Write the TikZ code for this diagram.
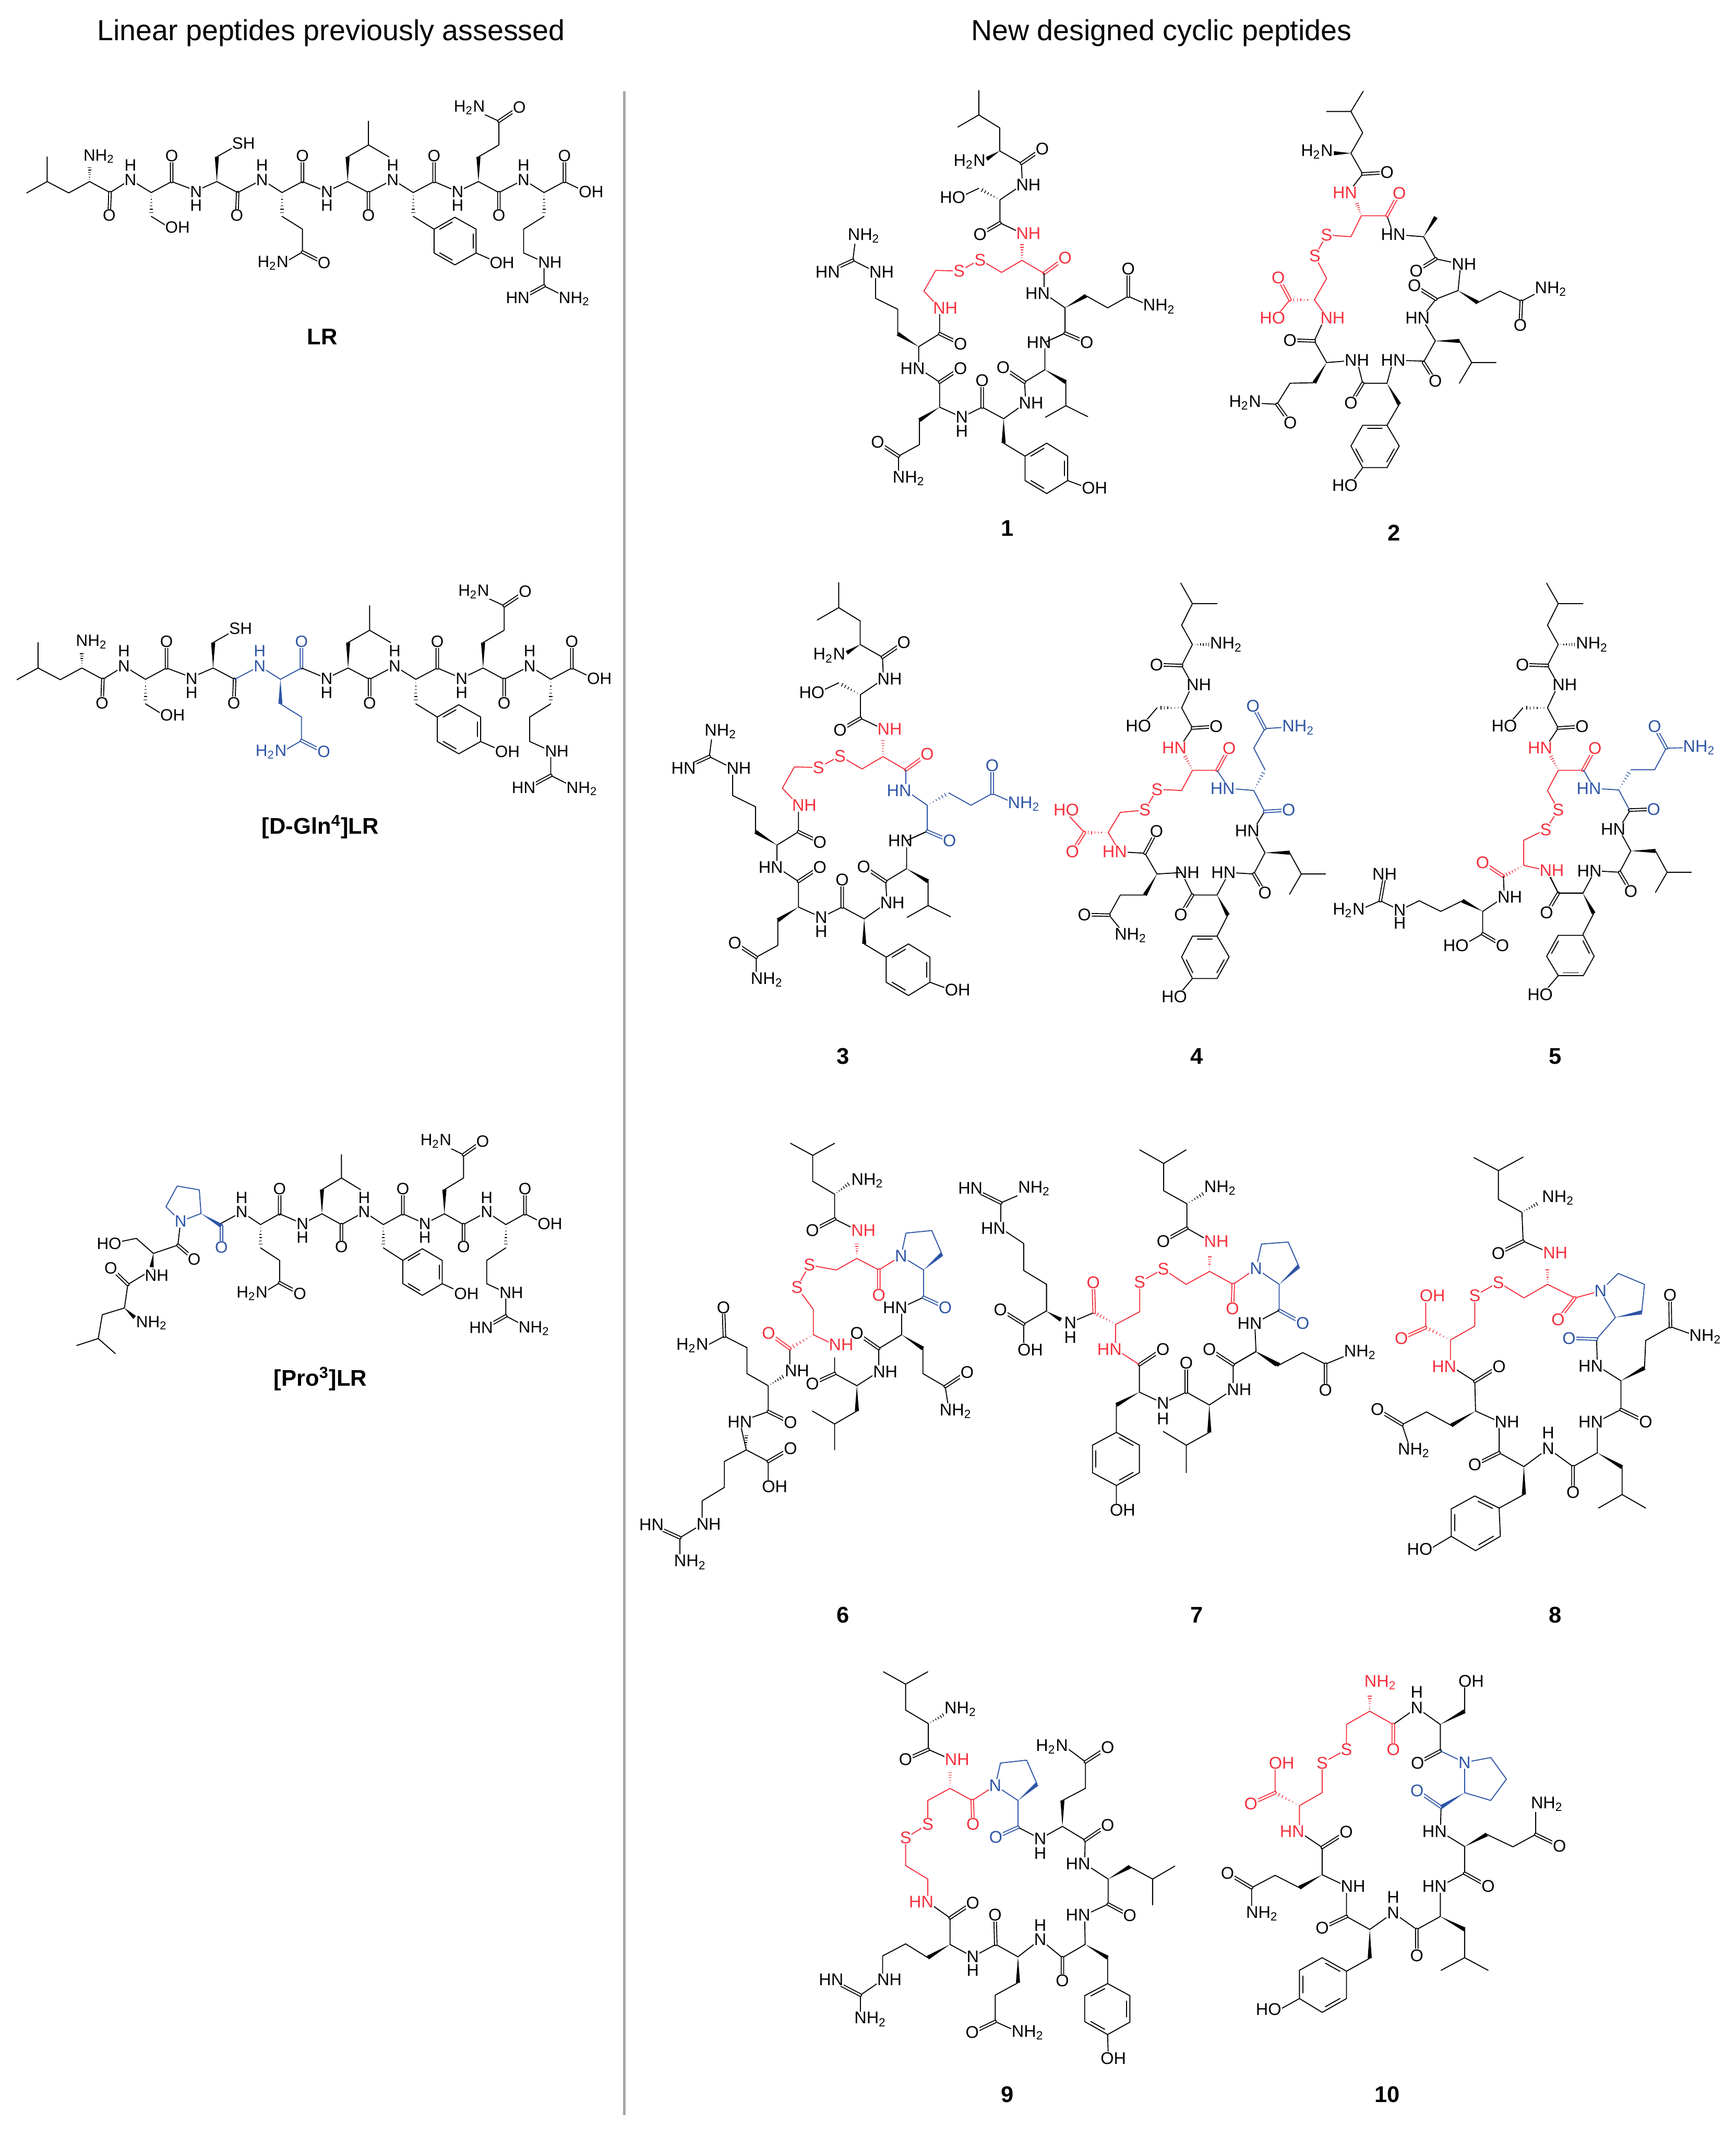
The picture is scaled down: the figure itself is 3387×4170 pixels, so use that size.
\documentclass[tikz,border=0pt]{standalone}
\usepackage{fontspec}
\setmainfont{Liberation Sans}
\usetikzlibrary{calc}
\definecolor{pepred}{HTML}{F5303C}
\definecolor{pepblue}{HTML}{2E55A5}
\definecolor{ruleGrey}{HTML}{A8A8A8}
\newcommand{\two}{\textsubscript{2}}
\tikzset{
  bond/.style={line width=.019cm,line cap=round,line join=round},
  dbl/.style={bond,double,double distance=.03cm},
  atom/.style={font=\fontsize{9.4}{10}\selectfont,fill=white,inner sep=.3pt},
  linatom/.style={atom,font=\fontsize{9.1}{10}\selectfont},
  redatom/.style={text=pepred},
  blueatom/.style={text=pepblue},
  heading/.style={font=\fontsize{16.1}{18}\selectfont},
  caption/.style={font=\fontsize{12.6}{14}\selectfont\bfseries}
}
\newcommand{\wedges}[2][black]{\foreach \xa/\ya/\xb/\yb in {#2}{\fill[#1] ($(\xb,\yb)!.04cm!90:(\xa,\ya)$) -- ($(\xb,\yb)!.04cm!-90:(\xa,\ya)$) -- (\xa,\ya) -- cycle;}}
\newcommand{\hashes}[2][black]{\foreach \xa/\ya/\xb/\yb in {#2}{\foreach \hs in {.14,.28,.42,.56,.70,.84}{\pgfmathsetmacro\hw{\hs*.045}\draw[#1,line width=.014cm] ($(\xa,\ya)!\hs!(\xb,\yb)!\hw cm!90:(\xb,\yb)$) -- ($(\xa,\ya)!\hs!(\xb,\yb)!\hw cm!-90:(\xb,\yb)$);}}}
\newcommand{\phinner}[3]{\draw[bond] ($(#1)!.15!(#2)!.14!(#3)$) -- ($(#2)!.15!(#1)!.14!(#3)$);}
\newcommand{\phenyl}[6]{\draw[bond] (#1)--(#2)--(#3)--(#4)--(#5)--(#6)--cycle;
  \coordinate (rc) at ($(#1)!.5!(#4)$);
  \phinner{#1}{#2}{rc}\phinner{#3}{#4}{rc}\phinner{#5}{#6}{rc}}
\newcommand{\lrhead}{
  \draw[bond] (68,662)--(120,600)--(120,465) (120,600)--(175,662)--(228,600)--(280,660)--(332,590)--(385,660)--(437,600)--(499,650)--(552,600)--(605,660)
    (385,790)--(430,850) (552,465)--(605,400);
  \draw[dbl] (280,660)--(278,785) (437,600)--(437,460) (605,660)--(603,785);
  \hashes{228/600/228/510,385/660/385/790}
  \wedges{552/600/552/465}
  \node (nt) at (252,462) {NH\two};
  \node (o1) at (278,785) {O};
  \node (n2) at (332,590) {N};
  \node (h2) at (332,510) {H};
  \node (oh2) at (452,850) {OH};
  \node (o2) at (437,460) {O};
  \node (n3) at (499,655) {N};
  \node (h3) at (499,730) {H};
  \node (sh3) at (620,392) {SH};
  \node (o3) at (603,785) {O};
}
\newcommand{\lrgln}{
  \draw[bond] (605,660)--(667,590)--(718,660)--(770,600) (718,790)--(770,860)--(770,985)--(730,1035);
  \draw[dbl] (770,985)--(825,1045) (770,600)--(770,460);
  \hashes{718/660/718/790}
  \node (n4) at (667,590) {N};
  \node (h4) at (667,510) {H};
  \node (n4s) at (695,1045) {H\two N};
  \node (o4s) at (825,1045) {O};
  \node (o4) at (770,460) {O};
}
\newcommand{\lrtail}{
  \draw[bond] (770,600)--(832,655)--(885,600)--(938,660)--(1000,590)--(1052,660)--(1105,600)--(1165,655)--(1218,600)--(1270,660)--(1333,590)--(1385,660)--(1437,600)--(1490,655)
    (885,465)--(938,400)--(938,270) (938,400)--(990,465) (1052,790)--(1105,860) (1218,465)--(1270,400)--(1270,270)--(1225,225)
    (1212,990)--(1265,1040) (1385,790)--(1333,860)--(1333,990)--(1385,1040)--(1385,1170)--(1445,1235);
  \draw[dbl] (938,660)--(938,785) (1105,600)--(1105,460) (1270,660)--(1270,785) (1437,600)--(1437,460) (1270,270)--(1322,195) (1385,1170)--(1335,1228);
  \hashes{1052/660/1052/790,1385/660/1385/790}
  \wedges{885/600/885/465,1218/600/1218/465}
  \phenyl{1105,860}{1158,795}{1212,860}{1212,990}{1158,1055}{1105,990}
  \node (n5) at (832,655) {N};
  \node (h5) at (832,730) {H};
  \node (o5) at (938,785) {O};
  \node (n6) at (1000,590) {N};
  \node (h6) at (1000,510) {H};
  \node (o6) at (1105,460) {O};
  \node (oh6) at (1278,1045) {OH};
  \node (n7) at (1165,655) {N};
  \node (h7) at (1165,730) {H};
  \node (n7s) at (1195,195) {H\two N};
  \node (o7s) at (1322,195) {O};
  \node (o7) at (1270,785) {O};
  \node (n8) at (1333,590) {N};
  \node (h8) at (1333,510) {H};
  \node (o8) at (1437,460) {O};
  \node (oh8) at (1505,655) {OH};
  \node (ng) at (1400,1040) {NH};
  \node (hn) at (1318,1235) {HN};
  \node (nh) at (1462,1240) {NH\two};
}
\newcommand{\onebody}{
  \draw[bond] (645,192)--(725,150)--(725,65) (725,150)--(805,195)--(805,275)--(888,318)--(892,392)--(806,445)--(806,525)--(892,562)
    (725,405)--(650,437) (495,955)--(575,910)--(575,820) (415,910)--(415,825)--(330,787)--(330,695)--(243,655)--(255,570)
    (495,955)--(495,1030)--(575,1078)--(575,1165)--(660,1200)--(738,1165)--(820,1205)--(905,1150)--(900,1078)--(978,1035)--(978,940)--(1055,908)
    (498,1210)--(498,1295)--(418,1335)--(418,1410) (820,1290)--(902,1335) (1065,1420)--(1140,1445)
    (1058,1078)--(1058,1160)--(980,1200) (1058,1160)--(1142,1198);
  \draw[bond,color=pepred] (890,655)--(812,697)--(730,653)--(650,692)--(560,690)--(515,762)--(575,820) (890,655)--(975,700);
  \draw[dbl] (888,318)--(968,268) (806,525)--(730,565) (575,910)--(655,945) (243,655)--(147,695) (575,1078)--(655,1030) (418,1335)--(338,1287) (738,1165)--(738,1073) (900,1078)--(818,1028);
  \draw[dbl,color=pepred] (975,700)--(1055,647);
  \wedges{805/275/755/303,495/955/415/910,575/1165/498/1210,820/1205/820/1290,978/1035/1058/1078}
  \hashes{806/445/725/405}
  \hashes[pepred]{890/655/890/590}
  \phenyl{902,1335}{985,1290}{1065,1335}{1065,1420}{985,1465}{902,1420}
  \node (nt) at (690,312) {H\two N};
  \node (o1) at (968,268) {O};
  \node (n2) at (915,392) {NH};
  \node (ho2) at (625,437) {HO};
  \node (o2) at (730,565) {O};
  \node[redatom] (n3) at (915,562) {NH};
  \node[redatom] (o3) at (1055,647) {O};
  \node[redatom] (s1) at (730,653) {S};
  \node[redatom] (s2) at (650,692) {S};
  \node[redatom] (n0) at (597,820) {NH};
  \node (o0) at (655,945) {O};
  \node (ng) at (353,695) {NH};
  \node (hn) at (147,695) {HN};
  \node (nh) at (285,570) {NH\two};
  \node (n8) at (472,1030) {HN};
  \node (o8) at (655,1030) {O};
  \node (o8s) at (338,1287) {O};
  \node (n8s) at (457,1412) {NH\two};
  \node (n7) at (660,1200) {N};
  \node (h7) at (660,1248) {H};
  \node (o7) at (738,1073) {O};
  \node (oh) at (1168,1445) {OH};
  \node (n6) at (925,1150) {NH};
  \node (o6) at (818,1028) {O};
  \node (n5) at (955,940) {HN};
}
\newcommand{\onegln}[2]{
  \draw[bond,color=#1] (975,700)--(975,770)--(1055,820)--(1055,908) (1135,778)--(1218,820)--(1297,780)--(1385,815);
  \draw[bond] (1055,908)--(978,940);
  \draw[dbl,color=#1] (1055,908)--(1138,940) (1297,780)--(1297,685);
  #2
  \node[text=#1] (n4) at (950,770) {HN};
  \node[text=#1] (o4) at (1138,940) {O};
  \node[text=#1] (o4s) at (1297,685) {O};
  \node[text=#1] (n4s) at (1415,815) {NH\two};
}
\newcommand{\fourhead}{
  \draw[bond] (313,32)--(340,103)--(397,103) (340,103)--(315,178)--(340,245)--(315,318)--(340,385)--(315,465)--(340,535)--(310,603)
    (258,465)--(222,528);
  \draw[bond,color=pepred] (340,682)--(315,752) (340,682)--(397,682);
  \draw[dbl] (315,318)--(257,315) (340,535)--(395,530);
  \draw[dbl,color=pepred] (397,682)--(425,605);
  \hashes{340/245/385/245,315/465/258/465}
  \hashes[pepred]{340/682/320/625}
  \node (nt) at (418,245) {NH\two};
  \node (o1) at (257,315) {O};
  \node (n2) at (355,385) {NH};
  \node (ho2) at (215,528) {HO};
  \node (o2) at (395,530) {O};
  \node[redatom] (n3) at (298,603) {HN};
  \node[redatom] (o3) at (425,605) {O};
}
\newcommand{\fourtyr}{
  \draw[bond] (315,1037)--(340,1115)--(397,1115)--(425,1037)--(482,1042)--(508,968)--(480,892)--(507,825)
    (422,1185)--(397,1258) (565,968)--(592,1042)--(648,1042) (592,1042)--(565,1112);
  \draw[dbl] (340,1115)--(313,1183) (482,1042)--(508,1108);
  \wedges{397/1115/422/1185,508/968/565/968}
  \node (n6) at (328,1037) {NH};
  \node (o6) at (313,1183) {O};
  \node (n5) at (412,1037) {HN};
  \node (o5) at (508,1108) {O};
  \node (n4) at (467,892) {HN};
}
\begin{document}
\begin{tikzpicture}[x=.01cm,y=-.01cm]
        \useasboundingbox (0,0) rectangle (3387,4170);
        \node[heading] (titleleft) at (646,64) {Linear peptides previously assessed};
        \node[heading] (titleright) at (2266,64) {New designed cyclic peptides};
        \coordinate (ruletop) at (1218,178);
        \coordinate (rulebottom) at (1218,4127);
        \draw[ruleGrey,line width=.05cm] (ruletop) -- (rulebottom);
        \begin{scope}[caption]
        \node (caplr) at (629,657) {LR};
        \node (capgln) at (625,1614) {[D-Gln\textsuperscript{4}]LR};
        \node (cappro) at (625,2691) {[Pro\textsuperscript{3}]LR};
        \node (cap1) at (1965,1031) {1};
        \node (cap2) at (2720,1040) {2};
        \node (cap3) at (1645,2061) {3};
        \node (cap4) at (2335,2061) {4};
        \node (cap5) at (3034,2061) {5};
        \node (cap6) at (1645,3151) {6};
        \node (cap7) at (2335,3151) {7};
        \node (cap8) at (3034,3151) {8};
        \node (cap9) at (1965,4087) {9};
        \node (cap10) at (2707,4087) {10};
        \end{scope}
        \begin{scope}[shift={(0,140)},x=.007653cm,y=-.00357cm,every node/.style={linatom},name prefix=lr-]
        \lrhead
        \lrgln
        \lrtail
        \end{scope}
        \begin{scope}[shift={(-20.7,1082.7)},x=.0079cm,y=-.003675cm,every node/.style={linatom},name prefix=dgln-]
        \lrhead
        \draw[bond,color=pepblue] (605,660)--(667,590)--(718,660)--(770,600) (718,790)--(770,860)--(770,985)--(730,1035);
        \draw[dbl,color=pepblue] (770,985)--(825,1045) (770,600)--(770,460);
        \wedges[pepblue]{718/660/718/790}
        \begin{scope}[every node/.style={linatom,blueatom}]
        \node (n4) at (667,590) {N};
        \node (h4) at (667,510) {H};
        \node (n4s) at (695,1045) {H\two N};
        \node (o4s) at (825,1045) {O};
        \node (o4) at (770,460) {O};
        \end{scope}
        \lrtail
        \end{scope}
        \begin{scope}[shift={(-6.9,2158.8)},x=.00717cm,y=-.0035cm,every node/.style={linatom},name prefix=pro-]
        \lrgln
        \lrtail
        \end{scope}
        \begin{scope}[shift={(100,2160)},x=.006633cm,y=-.00357cm,every node/.style={linatom},name prefix=prohead-]
        \draw[bond,color=pepblue] (380,625)--(337,545)--(370,432)--(435,453)--(440,582)--(380,625);
        \draw[dbl,color=pepblue] (500,650)--(500,768);
        \wedges[pepblue]{440/582/500/650}
        \draw[bond] (380,625)--(372,755)--(300,800)--(250,718)--(170,748) (300,885)--(225,970)--(215,1098)--(150,1135)--(138,1265)--(75,1303) (138,1265)--(188,1347);
        \draw[dbl] (372,755)--(420,832) (225,970)--(175,880);
        \wedges{300/800/295/875,215/1098/245/1150}
        \node[blueatom] (n3) at (380,625) {N};
        \node[blueatom] (o3) at (500,768) {O};
        \node (ho2) at (170,748) {HO};
        \node (o2) at (420,832) {O};
        \node (n2) at (310,920) {NH};
        \node (o1) at (175,880) {O};
        \node (nt) at (295,1180) {NH\two};
        \end{scope}
        \begin{scope}[shift={(1540,140)},x=.005102cm,y=-.005612cm,every node/.style={atom},name prefix=one-]
        \onebody
        \onegln{black}{\wedges{1055/820/1135/778}}
        \end{scope}
        \begin{scope}[shift={(1256.7,1099.4)},x=.00524cm,y=-.00576cm,every node/.style={atom},name prefix=three-]
        \onebody
        \onegln{pepblue}{\hashes[pepblue]{1055/820/1135/778}}
        \end{scope}
        \begin{scope}[shift={(2340,140)},x=.005102cm,y=-.005612cm,every node/.style={atom},name prefix=two-]
        \draw[bond] (627,68)--(580,138)--(487,138) (580,138)--(625,212)--(580,283)--(625,355)--(570,420) (718,500)--(742,565)--(858,573)--(905,650)--(1000,668)--(990,760)--(905,790)--(850,855)--(903,935)--(860,1005)--(742,1002)--(718,1082)--(625,1082)--(603,1002)--(487,1010)--(440,935)--(480,855)
          (765,1155)--(718,1228) (995,935)--(1042,1010)--(1135,1010) (1042,1010)--(995,1082) (440,1080)--(347,1082)--(297,1155)--(195,1150) (1065,802)--(1150,762)--(1232,797)--(1320,755) (625,1375)--(575,1437);
        \draw[bond,color=pepred] (620,500)--(718,500) (620,500)--(580,573)--(487,567)--(442,640)--(487,718)--(440,792)--(490,855) (347,792)--(290,855);
        \draw[dbl] (625,355)--(718,350) (440,935)--(347,932) (297,1155)--(348,1220) (625,1082)--(580,1150) (858,1010)--(903,1075) (905,790)--(823,743) (1232,797)--(1228,880) (905,650)--(830,692);
        \draw[dbl,color=pepred] (718,500)--(765,422) (347,792)--(302,715);
        \wedges{580/283/515/283,487/1010/440/1080,718/1082/765/1155,903/935/995/935,990/760/1065/802,858/573/905/505}
        \hashes[pepred]{620/500/600/450,440/792/347/792}
        \phenyl{718,1228}{625,1228}{580,1300}{625,1375}{718,1375}{765,1300}
        \node (nt) at (450,278) {H\two N};
        \node (o1) at (718,350) {O};
        \node[redatom] (n2) at (557,420) {HN};
        \node[redatom] (o2) at (765,422) {O};
        \node[redatom] (s1) at (487,567) {S};
        \node[redatom] (s2) at (442,640) {S};
        \node[redatom] (o0) at (302,715) {O};
        \node[redatom] (ho0) at (280,855) {HO};
        \node[redatom] (n0) at (510,855) {NH};
        \node (n3) at (742,565) {HN};
        \node (n4) at (1013,668) {NH};
        \node (o3) at (830,692) {O};
        \node (o4) at (823,743) {O};
        \node (n4s) at (1345,755) {NH\two};
        \node (o4s) at (1228,880) {O};
        \node (n5) at (835,855) {HN};
        \node (o5) at (903,1075) {O};
        \node (n6) at (742,1002) {HN};
        \node (n7) at (603,1002) {NH};
        \node (o6) at (580,1150) {O};
        \node (o7) at (347,932) {O};
        \node (n7s) at (175,1150) {H\two N};
        \node (o7s) at (348,1220) {O};
        \node (ho) at (557,1437) {HO};
        \end{scope}
        \begin{scope}[shift={(2040,1120)},x=.008418cm,y=-.005612cm,every node/.style={atom},name prefix=four-]
        \fourhead
        \fourtyr
        \draw[bond,color=pepred] (315,752)--(258,748)--(230,820)--(173,828)--(145,898)--(172,965) (90,898)--(48,830);
        \draw[dbl,color=pepred] (90,898)--(62,965);
        \hashes[pepred]{145/898/90/898}
        \draw[bond] (172,965)--(230,970)--(258,1042)--(315,1037) (230,1115)--(173,1115)--(147,1185)--(185,1255) (340,1405)--(305,1468);
        \draw[dbl] (230,970)--(257,893) (147,1185)--(90,1183);
        \wedges{258/1042/230/1115}
        \phenyl{397,1258}{340,1258}{315,1330}{340,1405}{397,1405}{425,1330}
        \draw[bond,color=pepblue] (397,682)--(425,745)--(482,752)--(507,825) (508,680)--(482,605)--(508,537)--(550,533);
        \draw[dbl,color=pepblue] (507,825)--(563,820) (508,537)--(480,458);
        \hashes[pepblue]{482/752/508/680}
        \node[redatom] (s1) at (258,748) {S};
        \node[redatom] (s2) at (230,820) {S};
        \node[redatom] (ho0) at (48,820) {HO};
        \node[redatom] (o0) at (62,965) {O};
        \node[redatom] (n0) at (160,965) {HN};
        \node (o8) at (257,893) {O};
        \node (o8s) at (90,1183) {O};
        \node (n8s) at (197,1255) {NH\two};
        \node (ho) at (298,1468) {HO};
        \node[blueatom] (n3) at (410,745) {HN};
        \node[blueatom] (o3) at (563,820) {O};
        \node[blueatom] (o3s) at (480,458) {O};
        \node[blueatom] (n3s) at (585,533) {NH\two};
        \end{scope}
        \begin{scope}[shift={(2040,1120)},x=.008418cm,y=-.005612cm,every node/.style={atom},name prefix=five-]
        \begin{scope}[shift={(847,0)}]
        \fourhead
        \end{scope}
        \begin{scope}[shift={(847,-6)}]
        \fourtyr
        \end{scope}
        \draw[bond,color=pepred] (1162,752)--(1187,820)--(1158,888)--(1107,925)--(1107,1012)--(1160,1030);
        \draw[dbl,color=pepred] (1060,1050)--(1012,1002);
        \hashes[pepred]{1107/1012/1060/1050}
        \draw[bond] (1160,1030)--(1187,1108)--(1245,1108) (1060,1050)--(1062,1122)--(1012,1172)--(1012,1250)--(965,1290)
          (965,1135)--(915,1172)--(865,1135)--(820,1168)--(775,1135)--(725,1168) (1187,1395)--(1150,1460);
        \draw[dbl] (1012,1250)--(1058,1290) (775,1135)--(785,1050) (1352,820)--(1408,817);
        \wedges{1012/1172/965/1135}
        \phenyl{1187,1255}{1160,1328}{1187,1395}{1245,1395}{1270,1328}{1245,1255}
        \draw[bond,color=pepblue] (1245,680)--(1270,745)--(1327,750)--(1352,820) (1355,680)--(1410,680)--(1437,605)--(1495,603);
        \draw[dbl,color=pepblue] (1437,605)--(1410,530);
        \hashes[pepblue]{1327/750/1355/680}
        \node[redatom] (s1) at (1187,820) {S};
        \node[redatom] (s2) at (1158,888) {S};
        \node[redatom] (o0) at (1012,1002) {O};
        \node[redatom] (n0) at (1172,1030) {NH};
        \node (n9) at (1075,1122) {NH};
        \node (ho9) at (950,1290) {HO};
        \node (o9) at (1058,1290) {O};
        \node (ng) at (820,1168) {N};
        \node (hg) at (820,1212) {H};
        \node (hn) at (785,1042) {NH};
        \node (nh) at (702,1168) {H\two N};
        \node (ho) at (1145,1460) {HO};
        \node[blueatom] (n3) at (1258,745) {HN};
        \node[blueatom] (o3) at (1408,817) {O};
        \node[blueatom] (o3s) at (1410,530) {O};
        \node[blueatom] (n3s) at (1513,603) {NH\two};
        \end{scope}
        \begin{scope}[shift={(1220,2200)},x=.006378cm,y=-.005612cm,every node/.style={atom},name prefix=six-]
        \draw[bond] (505,55)--(573,97)--(640,55) (573,97)--(573,187)--(640,232)--(640,318)--(710,358)
          (912,590)--(845,625)--(845,720) (910,768)--(910,855)--(978,900)--(990,985) (845,720)--(775,768)--(775,848)--(708,897)--(640,855)--(640,800)
          (708,985)--(640,1030)--(572,985) (640,1030)--(640,1120)
          (503,768)--(503,848) (437,897)--(372,855)--(372,765)--(303,725)--(250,757) (437,897)--(437,987)--(350,1022)--(370,1120)--(437,1160)--(437,1230)
          (370,1120)--(303,1160)--(303,1250)--(235,1297)--(235,1378)--(167,1425)--(167,1495);
        \draw[dbl] (640,318)--(572,358) (978,900)--(1045,850) (775,768)--(708,715) (640,855)--(572,890) (303,725)--(300,625) (437,987)--(505,1025) (437,1160)--(505,1115) (167,1425)--(80,1380);
        \wedges{845/720/910/768,708/897/708/985}
        \hashes{640/232/690/190,437/897/490/860,370/1120/370/1060}
        \draw[bond,color=pepred] (708,455)--(645,495)--(563,478)--(525,555)--(575,632)--(575,720)--(640,755) (708,455)--(775,495)--(843,447);
        \draw[dbl,color=pepred] (775,495)--(775,582) (503,768)--(438,715);
        \hashes[pepred]{708/455/708/395,575/720/503/768}
        \draw[bond,color=pepblue] (843,447)--(858,367)--(937,358)--(968,440) (843,447)--(912,495)--(912,590);
        \draw[dbl,color=pepblue] (912,590)--(978,625);
        \wedges[pepblue]{912/495/968/440}
        \node (nt) at (740,185) {NH\two};
        \node (o1) at (572,358) {O};
        \node[redatom] (n2) at (728,358) {NH};
        \node[redatom] (s1) at (563,478) {S};
        \node[redatom] (s2) at (525,555) {S};
        \node[redatom] (o2) at (775,582) {O};
        \node[blueatom] (n3) at (843,447) {N};
        \node[blueatom] (o3) at (978,625) {O};
        \node (n4) at (825,625) {HN};
        \node (o4) at (708,715) {O};
        \node (o4s) at (1045,850) {O};
        \node (n4s) at (1010,985) {NH\two};
        \node (n5) at (795,848) {NH};
        \node (o5) at (572,890) {O};
        \node[redatom] (n6) at (660,755) {NH};
        \node[redatom] (o6) at (438,715) {O};
        \node (n7) at (525,845) {NH};
        \node (o7s) at (300,625) {O};
        \node (n7s) at (205,757) {H\two N};
        \node (o7) at (505,1025) {O};
        \node (n8) at (350,1022) {HN};
        \node (o8) at (505,1115) {O};
        \node (oh8) at (457,1247) {OH};
        \node (ng) at (255,1378) {NH};
        \node (hn) at (80,1380) {HN};
        \node (nh) at (198,1510) {NH\two};
        \end{scope}
        \begin{scope}[shift={(1220,2200)},x=.006378cm,y=-.005612cm,every node/.style={atom},name prefix=sevenl-]
        \draw[bond] (1148,262)--(1250,212) (1148,262)--(1148,350)--(1218,403)--(1218,497)--(1288,545)--(1288,637)--(1218,683)--(1218,760);
        \draw[dbl] (1148,262)--(1055,210) (1218,683)--(1147,633);
        \node (hn) at (1055,210) {HN};
        \node (nh) at (1250,212) {NH\two};
        \node (ng) at (1125,350) {HN};
        \node (o9) at (1147,633) {O};
        \node (oh9) at (1238,772) {OH};
        \end{scope}
        \begin{scope}[shift={(2180,2200)},x=.007653cm,y=-.005612cm,every node/.style={atom},name prefix=sevenr-]
        \draw[bond] (57,78)--(118,125)--(175,78) (118,125)--(118,220)--(177,265)--(177,350)--(235,395)
          (353,778)--(295,825) (412,825)--(472,782)--(530,822)--(605,780);
        \draw[dbl] (177,350)--(117,395) (530,822)--(530,912);
        \hashes{177/265/225/225}
        \wedges{353/778/412/825}
        \draw[bond,color=pepred] (235,500)--(175,545)--(117,492)--(57,537)--(57,640)--(-4,684) (235,500)--(295,545)--(353,490);
        \draw[dbl,color=pepred] (295,545)--(293,630);
        \hashes[pepred]{235/500/235/440}
        \draw[bond,color=pepblue] (353,490)--(367,405)--(435,398)--(462,482) (353,490)--(412,545)--(412,635);
        \draw[dbl,color=pepblue] (412,635)--(472,680);
        \wedges[pepblue]{412/545/462/482}
        \draw[bond] (412,635)--(350,680)--(353,778);
        \node (nt) at (262,210) {NH\two};
        \node (o1) at (117,395) {O};
        \node[redatom] (n2) at (252,395) {NH};
        \node[redatom] (s1) at (117,492) {S};
        \node[redatom] (s2) at (57,537) {S};
        \node[redatom] (o2) at (293,630) {O};
        \node[blueatom] (n3) at (353,490) {N};
        \node[blueatom] (o3) at (472,680) {O};
        \node (n4) at (337,680) {HN};
        \node (n4s) at (618,780) {NH\two};
        \node (o4s) at (530,912) {O};
        \end{scope}
        \begin{scope}[shift={(2040,2420)},x=.003333cm,y=-.00357cm,every node/.style={atom},name prefix=sevenc-]
        \draw[bond] (5,240)--(5,388) (285,395)--(145,450) (550,680)--(550,830)--(688,890)--(825,830)--(960,900)--(1100,815)--(1100,680)--(1232,610)
          (415,900)--(415,1050) (415,1340)--(415,1460) (960,1050)--(825,1120)--(690,1045) (825,1120)--(825,1270);
        \draw[dbl] (550,680)--(688,595) (825,830)--(825,670) (1100,680)--(960,595);
        \wedges{5/388/90/435,550/830/415/900,960/900/960/1050,1232/610/1355/680}
        \phenyl{415,1050}{550,1120}{550,1270}{415,1340}{275,1270}{275,1120}
        \draw[bond,color=pepred] (410,460)--(410,595)--(550,680);
        \draw[dbl,color=pepred] (285,395)--(280,232);
        \hashes[pepred]{410/460/285/395}
        \node (n9) at (145,450) {N};
        \node (h9) at (145,530) {H};
        \node[redatom] (o9) at (280,232) {O};
        \node[redatom] (n8) at (375,595) {HN};
        \node (o8) at (688,595) {O};
        \node (n7) at (688,890) {N};
        \node (h7) at (688,975) {H};
        \node (o7) at (825,670) {O};
        \node (oh) at (452,1475) {OH};
        \node (n6) at (1135,815) {NH};
        \node (o6) at (960,595) {O};
        \end{scope}
        \begin{scope}[shift={(2180,2200)},x=.007653cm,y=-.005612cm,every node/.style={atom},name prefix=eight-]
        \draw[bond] (908,105)--(970,150)--(1033,103) (970,150)--(970,250)--(1030,295)--(1033,395)--(1100,435)
          (1220,735)--(1222,828)--(1282,880)--(1282,980)--(1222,1022)--(1222,1130)--(1160,1178)--(1097,1115)--(1035,1178)--(972,1130)--(972,1022)--(912,985)--(910,882)--(850,830)
          (1342,835)--(1345,740)--(1408,692)--(1480,727) (850,1035)--(787,988)--(725,1032)--(745,1115)
          (1285,1180)--(1285,1275)--(1225,1322) (1285,1275)--(1345,1322) (1035,1275)--(972,1322) (850,1420)--(795,1465);
        \draw[dbl] (1033,395)--(970,437) (910,882)--(972,830) (1282,980)--(1345,1022) (1408,692)--(1407,582) (725,1032)--(662,980) (972,1130)--(910,1172) (1160,1178)--(1160,1268);
        \wedges{1282/880/1342/835,912/985/850/1035,1222/1130/1285/1180,1035/1178/1035/1275}
        \hashes{1030/295/1075/260}
        \phenyl{972,1322}{910,1280}{850,1325}{850,1420}{912,1470}{975,1420}
        \draw[bond,color=pepred] (1095,545)--(1035,592)--(970,538)--(910,585)--(910,690)--(848,738)--(848,830) (1095,545)--(1165,592)--(1230,568) (785,695)--(785,610);
        \draw[dbl,color=pepred] (1165,592)--(1122,668) (785,695)--(723,733);
        \hashes[pepred]{1095/545/1095/485,848/738/785/695}
        \draw[bond,color=pepblue] (1230,568)--(1275,507)--(1342,545)--(1335,642) (1230,568)--(1268,660)--(1220,735);
        \draw[dbl,color=pepblue] (1220,735)--(1150,732);
        \wedges[pepblue]{1268/660/1335/642}
        \node (nt) at (1122,245) {NH\two};
        \node (o1) at (970,437) {O};
        \node[redatom] (n2) at (1115,435) {NH};
        \node[redatom] (s1) at (970,538) {S};
        \node[redatom] (s2) at (910,585) {S};
        \node[redatom] (o2) at (1122,668) {O};
        \node[blueatom] (n3) at (1230,568) {N};
        \node[blueatom] (o3) at (1150,732) {O};
        \node[redatom] (oh0) at (802,585) {OH};
        \node[redatom] (o0) at (723,733) {O};
        \node[redatom] (n0) at (832,830) {HN};
        \node (n4) at (1205,828) {HN};
        \node (o4s) at (1407,582) {O};
        \node (n4s) at (1497,727) {NH\two};
        \node (o4) at (1345,1022) {O};
        \node (n5) at (1205,1022) {HN};
        \node (o5) at (1160,1268) {O};
        \node (n6) at (1097,1115) {N};
        \node (h6) at (1097,1060) {H};
        \node (ho) at (770,1465) {HO};
        \node (o7) at (910,1172) {O};
        \node (n7) at (992,1022) {NH};
        \node (o8) at (972,830) {O};
        \node (o8s) at (662,980) {O};
        \node (n8s) at (755,1122) {NH\two};
        \end{scope}
        \begin{scope}[shift={(1540,3220)},x=.005102cm,y=-.005612cm,every node/.style={atom},name prefix=nine-]
        \draw[bond] (360,75)--(445,118)--(530,75) (445,118)--(445,208)--(532,255)--(532,345)--(620,380)
          (875,615)--(960,655)--(1045,612)--(1132,660)--(1130,742)--(1220,795)--(1220,882)--(1130,920)--(1132,1022)--(1045,1068)--(960,1005)--(875,1065)--(790,1022)--(702,1065)--(615,1022)--(615,930)--(530,875)
          (1045,522)--(1133,480)--(1133,388)--(1070,345) (1303,752)--(1390,795)--(1475,750) (1390,795)--(1390,885) (1218,1068)--(1218,1158) (1218,1335)--(1220,1400)
          (875,1155)--(788,1198)--(788,1290)--(880,1328) (530,1068)--(445,1020)--(357,1062)--(357,1145)--(272,1198)--(272,1282);
        \draw[dbl] (532,345)--(445,380) (1133,388)--(1218,338) (1132,660)--(1218,607) (1220,882)--(1303,922) (1045,1068)--(1045,1148) (788,1290)--(700,1328) (790,1022)--(787,920) (615,930)--(702,877) (272,1198)--(160,1145);
        \wedges{1045/612/1045/522,1220/795/1303/752,1132/1022/1218/1068,875/1065/875/1155,615/1022/530/1068}
        \hashes{532/255/600/220}
        \phenyl{1218,1158}{1130,1200}{1130,1290}{1218,1335}{1303,1292}{1303,1200}
        \draw[bond,color=pepred] (615,480)--(530,522)--(530,605)--(445,652)--(445,748)--(530,795)--(530,875) (615,480)--(700,522)--(788,470);
        \draw[dbl,color=pepred] (700,522)--(703,605);
        \hashes[pepred]{615/480/615/415}
        \draw[bond,color=pepblue] (788,470)--(808,392)--(908,382)--(948,465) (788,470)--(875,522)--(875,615);
        \draw[dbl,color=pepblue] (875,615)--(790,650);
        \wedges[pepblue]{875/522/948/465}
        \node (nt) at (655,205) {NH\two};
        \node (o1) at (445,380) {O};
        \node[redatom] (n2) at (642,380) {NH};
        \node[redatom] (s1) at (530,605) {S};
        \node[redatom] (s2) at (445,652) {S};
        \node[redatom] (o2) at (703,605) {O};
        \node[blueatom] (n3) at (788,470) {N};
        \node[blueatom] (o3) at (790,650) {O};
        \node (n4) at (960,655) {N};
        \node (h4) at (960,705) {H};
        \node (n4s) at (1005,335) {H\two N};
        \node (o4s) at (1218,338) {O};
        \node (o4) at (1218,607) {O};
        \node (n5) at (1105,742) {HN};
        \node (o5) at (1303,922) {O};
        \node (n6) at (1105,920) {HN};
        \node (oh) at (1240,1417) {OH};
        \node (o6) at (1045,1148) {O};
        \node (n7) at (960,1005) {N};
        \node (h7) at (960,955) {H};
        \node (o7s) at (700,1328) {O};
        \node (n7s) at (912,1328) {NH\two};
        \node (o7) at (787,920) {O};
        \node (n8) at (702,1065) {N};
        \node (h8) at (702,1112) {H};
        \node (o8) at (702,877) {O};
        \node[redatom] (n0) at (505,875) {HN};
        \node (ng) at (383,1145) {NH};
        \node (hn) at (160,1145) {HN};
        \node (nh) at (310,1282) {NH\two};
        \end{scope}
        \begin{scope}[shift={(2340,3220)},x=.005102cm,y=-.005612cm,every node/.style={atom},name prefix=ten-]
        \draw[bond] (742,258)--(832,200)--(922,258)--(922,350) (1015,212)--(1015,130)
          (925,545)--(922,630)--(1015,682)--(1015,775)--(922,820)--(922,925)--(832,970)--(742,912)--(652,970)--(563,925)--(563,820)--(470,780)--(470,685)--(380,630)
          (1100,640)--(1200,683)--(1287,640)--(1287,555) (1015,970)--(1015,1068)--(925,1112) (1015,1068)--(1105,1112)
          (652,1070)--(563,1115) (383,1210)--(310,1247) (383,825)--(290,782)--(200,825)--(200,900);
        \draw[dbl] (922,350)--(835,392) (1287,640)--(1378,680) (1015,775)--(1105,820) (832,970)--(832,1060) (563,925)--(470,965) (470,685)--(562,632) (200,825)--(108,775);
        \wedges{922/258/1015/212,1015/682/1100/640,922/925/1015/970,652/970/652/1070,470/780/383/825}
        \phenyl{563,1115}{470,1068}{383,1112}{383,1210}{470,1258}{563,1210}
        \draw[bond,color=pepred] (652,212)--(563,258)--(563,345)--(470,392)--(470,495)--(383,540)--(383,630) (652,212)--(742,258) (290,495)--(290,400);
        \draw[dbl,color=pepred] (742,258)--(742,345) (290,495)--(197,533);
        \hashes[pepred]{652/212/652/150,383/540/290/495}
        \draw[bond,color=pepblue] (922,350)--(1015,390)--(1115,373)--(1175,448)--(1115,522)--(1015,495)--(1015,390);
        \draw[dbl,color=pepblue] (925,545)--(833,488);
        \wedges[pepblue]{1015/495/925/545}
        \node[redatom] (nt) at (693,112) {NH\two};
        \node[redatom] (s1) at (563,345) {S};
        \node[redatom] (s2) at (470,392) {S};
        \node[redatom] (o1) at (742,345) {O};
        \node[redatom] (oh0) at (315,392) {OH};
        \node[redatom] (o0) at (197,533) {O};
        \node[redatom] (n0) at (355,630) {HN};
        \node (n2) at (832,200) {N};
        \node (h2) at (832,145) {H};
        \node (oh2) at (1040,107) {OH};
        \node (o2) at (835,392) {O};
        \node[blueatom] (n3) at (1015,390) {N};
        \node[blueatom] (o3) at (833,488) {O};
        \node (n4) at (900,630) {HN};
        \node (n4s) at (1330,535) {NH\two};
        \node (o4s) at (1378,680) {O};
        \node (o4) at (1105,820) {O};
        \node (n5) at (900,820) {HN};
        \node (o5) at (832,1060) {O};
        \node (n6) at (742,912) {N};
        \node (h6) at (742,857) {H};
        \node (ho) at (265,1247) {HO};
        \node (o7) at (470,965) {O};
        \node (n7) at (588,820) {NH};
        \node (o8) at (562,632) {O};
        \node (o8s) at (108,775) {O};
        \node (n8s) at (240,915) {NH\two};
        \end{scope}
\end{tikzpicture}
\end{document}
